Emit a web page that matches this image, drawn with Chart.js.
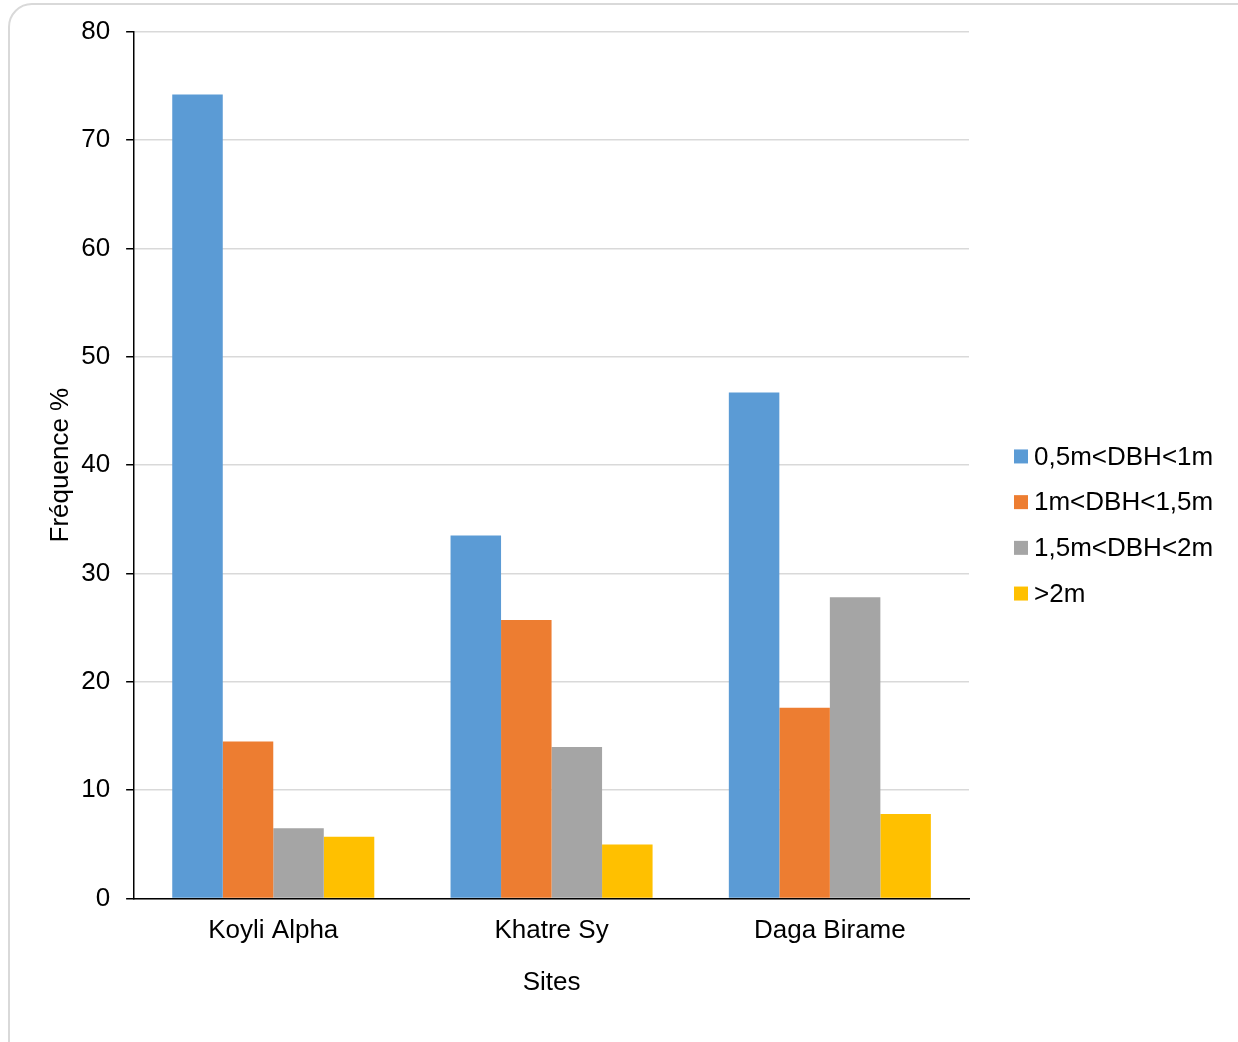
<!DOCTYPE html>
<html>
<head>
<meta charset="utf-8">
<script src="https://cdn.jsdelivr.net/npm/chart.js@4"></script>
<style>
  html, body { margin: 0; padding: 0; background: #fff; overflow: hidden; }
  #frame {
    position: absolute; left: 8px; top: 3px; width: 1260px; height: 1070px;
    border: 2px solid #d9d9d9; border-radius: 24px; box-sizing: border-box;
  }
  #wrap { position: absolute; left: 0; top: 0; width: 1238px; height: 1042px; }
</style>
</head>
<body>
<div id="frame"></div>
<div id="wrap"><canvas id="chart"></canvas></div>
<script>
const sites = ['Koyli Alpha', 'Khatre Sy', 'Daga Birame']
const classLabels = ['0,5m<DBH<1m', '1m<DBH<1,5m', '1,5m<DBH<2m', '>2m']
const class1 = [74.2, 33.5, 46.7]
const class2 = [14.5, 25.7, 17.6]
const class3 = [6.5, 14.0, 27.8]
const class4 = [5.7, 5.0, 7.8]
const colors = ['#5b9bd5', '#ed7d31', '#a5a5a5', '#ffc000']

const FONT = 'Liberation Sans, Arial, sans-serif'

// legend drawn by hand, to the right of the plot
const sideLegend = {
    id: 'sideLegend',
    afterDraw(chart) {
        const ctx = chart.ctx
        const area = chart.chartArea
        const x = area.right + 45
        const rowH = 45.7
        const n = chart.data.datasets.length
        const y0 = 525 - (n - 1) * rowH / 2
        ctx.save()
        ctx.font = '26px ' + FONT
        ctx.textBaseline = 'middle'
        ctx.textAlign = 'left'
        chart.data.datasets.forEach((ds, i) => {
            const y = y0 + i * rowH
            ctx.fillStyle = ds.backgroundColor
            ctx.fillRect(x, y - 7, 14, 14)
            ctx.fillStyle = '#000'
            ctx.fillText(ds.label, x + 20, y + 1)
        })
        ctx.restore()
    }
}

const ctx = document.getElementById('chart').getContext('2d')
new Chart(ctx, {
    type: 'bar',
    data: {
        labels: sites,
        datasets: [class1, class2, class3, class4].map((vals, i) => ({
            label: classLabels[i],
            data: vals,
            backgroundColor: colors[i],
            borderWidth: 0,
            categoryPercentage: 0.726,
            barPercentage: 1
        }))
    },
    options: {
        responsive: true,
        maintainAspectRatio: false,
        animation: false,
        layout: { padding: { left: 45, right: 269, top: 24, bottom: 40 } },
        scales: {
            x: {
                grid: { display: false, drawTicks: false },
                border: { color: '#000', width: 1.5 },
                ticks: { color: '#000', font: { family: FONT, size: 26 }, padding: 17 },
                title: { display: true, text: 'Sites', color: '#000', font: { family: FONT, size: 26 }, padding: { top: 3 } }
            },
            y: {
                min: 0,
                max: 80,
                ticks: { stepSize: 10, color: '#000', font: { family: FONT, size: 26 }, padding: 16 },
                grid: { color: '#d9d9d9', lineWidth: 1.5, tickColor: '#000', tickLength: 8 },
                border: { color: '#000', width: 1.5 },
                title: { display: true, text: 'Fréquence %', color: '#000', font: { family: FONT, size: 26 }, padding: { top: 0, bottom: -11 } }
            }
        },
        plugins: {
            legend: { display: false },
            tooltip: { enabled: false }
        }
    },
    plugins: [sideLegend]
})
</script>
</body>
</html>
